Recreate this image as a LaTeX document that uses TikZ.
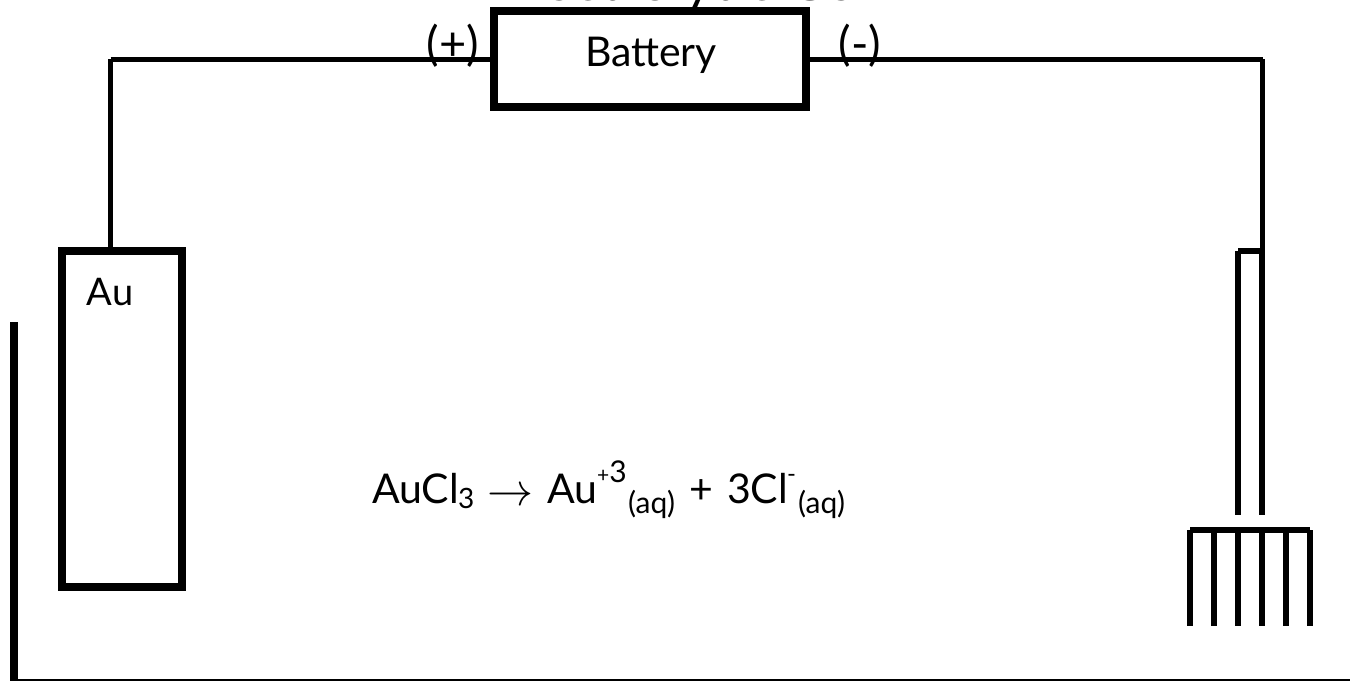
\documentclass[tikz,border=0pt]{standalone}
\usepackage{fontspec}
\setmainfont{Lato}
\newcommand{\bigtxt}{\fontsize{41}{41}\selectfont}
\newcommand{\aqtxt}{\raisebox{-10pt}{\makebox[50pt][l]{\fontsize{30}{30}\selectfont (aq)}}}
\begin{document}
\begin{tikzpicture}[x=1pt,y=-1pt,
  heavy/.style={draw=black,line width=8pt,fill=white,rectangle,inner sep=0pt},
  wire/.style={draw=black,line width=5pt,line cap=butt},
  rod/.style={draw=black,line width=6pt,line cap=butt},
  floor/.style={draw=black,line width=2pt},
  lbl/.style={inner sep=0pt,text=black}]
\useasboundingbox (0,0) rectangle (1350,681);
\begin{scope}
\clip (0,0) rectangle (1350,681);
\node[lbl,font=\fontsize{56}{56}\selectfont,anchor=base] (title) at (690,0) {Electrolytic Cell};
\end{scope}
\node[heavy,minimum width=312pt,minimum height=96pt] (bat) at (650,59) {};
\node[heavy,minimum width=120pt,minimum height=336pt] (au) at (122,419) {};
% wires
\coordinate (wl) at (110.5,59);
\coordinate (wr) at (1262.5,59);
\coordinate (tubeA) at (1238,251);
\coordinate (tubeB) at (1262,251);
\draw[wire] (au.north -| wl) -- (wl);
\draw[wire] (wl) -- (bat.west);
\draw[wire] (bat.east) -- (wr);
\draw[wire] (wr) -- (1262.5,251);
\draw[rod] (tubeB) -- (tubeA);
\draw[rod] (tubeA) -- (1238,515);
\draw[rod] (1262,248) -- (1262,515);
% comb-shaped cathode
\coordinate (c1) at (1190,530);
\coordinate (c2) at (1310,530);
\draw[rod] (c1) -- (c2);
\foreach \x in {1190,1214,1238,1262,1286,1310} \draw[rod] (\x,530) -- (\x,626);
% beaker
\coordinate (gt) at (14,322);
\coordinate (gb) at (14,681);
\coordinate (gc) at (14,680);
\coordinate (ge) at (1350,680);
\draw[draw=black,line width=8pt] (gt) -- (gb);
\draw[floor] (gc) -- (ge);
% labels
\node[lbl,font=\bigtxt,anchor=base] (batt) at (651,66) {Battery};
\node[lbl,font=\fontsize{47}{47}\selectfont] (plus) at (453,46) {(+)};
\node[lbl,font=\fontsize{47}{47}\selectfont] (minus) at (860,46) {(-)};
\node[lbl,font=\fontsize{38}{38}\selectfont,anchor=base] (aul) at (110,305) {Au};
\node[lbl,font=\bigtxt,anchor=base west] (eq) at (372,503) {\makebox[86pt][l]{AuCl}\raisebox{-5pt}{\makebox[16pt][l]{\fontsize{28}{28}\selectfont 3}}\hspace{16pt}\makebox[40pt][c]{\raisebox{-2pt}{\normalsize\scalebox{4.6}{$\rightarrow$}}}\hspace{17pt}\makebox[50pt][l]{Au}\raisebox{21pt}{\makebox[31pt][l]{{\fontsize{21}{21}\selectfont +}{\fontsize{30}{30}\selectfont 3}}}\aqtxt\hspace{14pt}\makebox[18pt][c]{+}\hspace{17pt}\makebox[60pt][l]{3Cl}\raisebox{21pt}{\makebox[11pt][l]{\fontsize{24}{24}\selectfont -}}\aqtxt};
\end{tikzpicture}
\end{document}
